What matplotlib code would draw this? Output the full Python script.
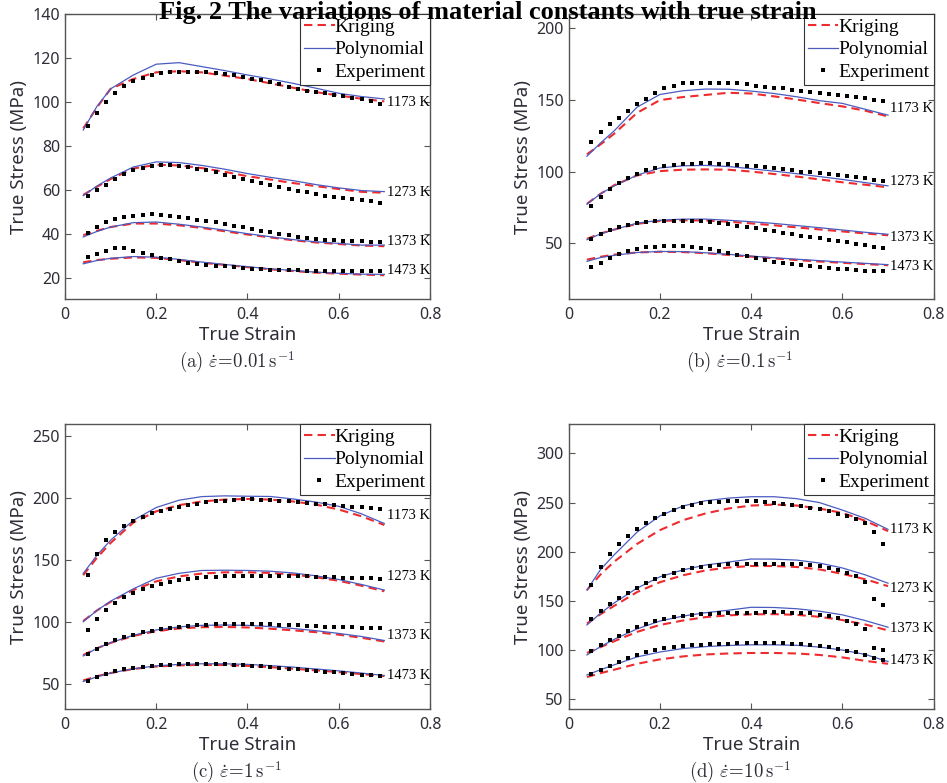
import matplotlib
matplotlib.use("Agg")
import matplotlib.pyplot as plt
from matplotlib.ticker import FormatStrFormatter

plt.rcParams["mathtext.fontset"] = "cm"

temps = ["1173 K", "1273 K", "1373 K", "1473 K"]

# strain points of the model curves and of the experiment markers
model_strain = [0.04, 0.07, 0.1, 0.15, 0.2, 0.25, 0.3, 0.35, 0.4, 0.45, 0.5, 0.55, 0.6, 0.65, 0.7]
exp_strain = [0.05, 0.07, 0.09, 0.11, 0.13, 0.15, 0.17, 0.19, 0.21, 0.23, 0.25,
              0.27, 0.29, 0.31, 0.33, 0.35, 0.37, 0.39, 0.41, 0.43, 0.45, 0.47,
              0.49, 0.51, 0.53, 0.55, 0.57, 0.59, 0.61, 0.63, 0.65, 0.67, 0.69]

# ---- (a) 0.01 s^-1
krig_a = [
    [88, 97.5, 106, 110.5, 113.5, 114, 113.5, 112, 110.5, 108.5, 106.5, 104.5, 103, 101.5, 100.3],
    [57.8, 61.5, 65, 69.8, 71.5, 71.2, 70, 68.3, 66.3, 64.8, 63.2, 61.8, 60.5, 59.2, 58.8],
    [39.5, 41.5, 43.2, 44.8, 44.8, 44, 42.8, 41.3, 39.8, 38.5, 37.2, 36.2, 35.5, 34.8, 34.5],
    [27.2, 28.2, 28.8, 29.4, 29.2, 28.2, 27, 26, 25, 24, 23.2, 22.5, 22, 21.6, 21.3],
]
poly_a = [
    [87.3, 98, 106, 112.3, 117.2, 117.9, 116.1, 114.3, 112.3, 110.5, 108.5, 106.3, 104, 102.5, 101.4],
    [57.5, 61.8, 65.5, 70.5, 72.8, 72.5, 71.2, 69.5, 67.5, 65.8, 64.3, 62.5, 61, 59.8, 59.3],
    [38.7, 41.2, 43.2, 45.2, 45.5, 44.5, 43.2, 41.8, 40.2, 38.8, 37.5, 36.5, 35.8, 35, 35],
    [26.5, 28, 29, 29.8, 29.5, 28.5, 27.3, 26.2, 25.2, 24.2, 23.5, 22.7, 22.2, 21.8, 21.7],
]
exp_a = [
    [89, 95, 100, 104, 107.5, 109.5, 111, 112.5, 113, 113.5, 113.5, 113.7, 113.7, 113.5, 113, 112.7, 112.3,
     111.5, 110.5, 109.8, 109, 108, 106.8, 105.8, 105.2, 104.5, 104, 103.3, 102.8, 102, 101.3, 100.5, 99.3],
    [57.5, 60, 62.5, 65, 67.5, 69, 70, 71, 71.3, 71.3, 71, 70.5, 69.8, 69, 68, 67, 66,
     65, 64, 63, 62.2, 61.3, 60.5, 59.7, 59, 58.3, 57.5, 57, 56.5, 55.8, 55.3, 55, 54.3],
    [40.5, 43, 45.5, 46.8, 47.8, 48.3, 48.6, 49, 48.8, 48.3, 47.8, 47.2, 46.6, 46, 45.3, 44.5, 43.7,
     43, 42.2, 41.5, 40.8, 40.2, 39.5, 38.9, 38.4, 38, 37.5, 37.2, 37, 36.8, 36.7, 36.6, 36.4],
    [29.5, 31, 32.3, 33.5, 33.5, 32.5, 31.5, 30.3, 29.3, 28.5, 27.7, 27, 26.5, 26, 25.7, 25.3, 25,
     24.7, 24.3, 24, 23.8, 23.6, 23.5, 23.5, 23.3, 23.2, 23.2, 23.2, 23.2, 23.2, 23.3, 23.3, 23.3],
]
label_y_a = [100, 58.7, 36.5, 23.6]

# ---- (b) 0.1 s^-1
krig_b = [
    [112, 119, 126.5, 141, 149.9, 152, 153.5, 155, 154.5, 152.5, 150.3, 147.8, 145.5, 142.5, 138.5],
    [77.5, 84.5, 90.5, 97.3, 100.3, 101.3, 101.5, 101.3, 100, 98.3, 96.5, 94.5, 92.5, 90.8, 89],
    [53, 56.8, 59.5, 63.5, 65.5, 66, 65.8, 65, 63.8, 62.5, 61, 59.6, 58.2, 56.8, 55.5],
    [38.5, 40.5, 42, 43.5, 44, 43.8, 43, 41.8, 40.6, 39.4, 38.2, 37.2, 36.3, 35.4, 34.6],
]
poly_b = [
    [110.7, 120, 128.5, 145, 153.8, 156.4, 157.6, 157.5, 156.2, 154.5, 152.2, 149.5, 147.6, 143.5, 139.4],
    [77.2, 84.5, 90, 97.5, 102.5, 104, 104.3, 103.5, 102, 100.3, 98.5, 96.5, 94.5, 92.3, 90],
    [52.4, 56.5, 59.5, 64, 66, 66.8, 66.8, 66, 65, 63.8, 62.3, 60.8, 59.2, 57.6, 56.2],
    [37.3, 40, 41.5, 43.5, 44.2, 44.1, 43.3, 42.2, 41, 39.8, 38.8, 37.8, 36.8, 35.9, 35],
]
exp_b = [
    [120.7, 127.5, 133, 137.5, 142.5, 147, 151, 155, 158, 160, 161.5, 162, 162, 162, 162, 161.8, 161.5,
     160.8, 160, 159.3, 158.5, 158, 157, 156.3, 155.8, 155, 154.3, 153.5, 152.8, 152, 151.2, 150.2, 149.3],
    [76, 82, 87.5, 92, 95.5, 98.5, 100.8, 102.5, 103.8, 104.6, 105.2, 105.6, 105.8, 105.8, 105.6, 105.2, 104.7,
     104.2, 103.6, 103, 102.3, 101.6, 100.8, 100, 99.4, 98.8, 98.1, 97.5, 96.8, 96, 95.2, 94.4, 93.5],
    [53, 56.5, 59, 61, 62.8, 64, 64.8, 65.3, 65.6, 65.7, 65.7, 65.5, 65.2, 64.7, 64, 63.2, 62.3,
     61.3, 60.3, 59.3, 58.3, 57.3, 56.3, 55.3, 54.4, 53.5, 52.5, 51.5, 50.5, 49.5, 48.5, 47.5, 46.5],
    [33.3, 36.3, 39.5, 42.5, 44.6, 46, 47, 47.6, 48, 48.2, 48, 47.6, 46.8, 45.8, 44.6, 43.3, 42,
     40.7, 39.4, 38.3, 37.2, 36.2, 35.4, 34.6, 33.9, 33.3, 32.8, 32.3, 31.8, 31.3, 30.9, 30.6, 30.5],
]
label_y_b = [144, 92.8, 53.8, 34]

# ---- (c) 1 s^-1
krig_c = [
    [138, 152, 164, 180.5, 189.5, 194.5, 197.5, 199, 199.5, 199, 197.5, 195, 191, 185.5, 178.5],
    [101, 109.5, 116.5, 126, 133, 137, 139.3, 140.3, 140.3, 139.8, 138.5, 136.3, 133.5, 129.5, 125],
    [73.5, 79, 83.3, 89, 92.8, 95, 96, 96.2, 95.8, 94.8, 93.5, 92, 90, 87.5, 84.5],
    [53, 56.5, 59, 62.3, 64.3, 65.2, 65.6, 65.5, 64.8, 63.8, 62.5, 61.2, 59.8, 58.2, 56.5],
]
poly_c = [
    [139.4, 154, 166.2, 182.3, 192.6, 198.5, 201.4, 202, 201.7, 201.5, 199.5, 197, 193.6, 187.5, 179.7],
    [100.5, 109.5, 117, 127, 135.5, 139.5, 141.8, 142, 141.8, 141.2, 139.8, 137.5, 134.5, 130.5, 126],
    [72.8, 79, 83.5, 89.5, 93.8, 96.3, 97.5, 97.8, 97.5, 96.5, 95, 93.2, 91, 88.5, 85.3],
    [52.2, 56, 59, 62.5, 64.8, 66, 66.5, 66.5, 66, 65, 63.8, 62.3, 60.8, 59, 57],
]
exp_c = [
    [138, 155, 166, 173, 178, 182, 185, 188, 190, 191.8, 193.2, 194.5, 195.7, 196.7, 197.5, 198.2, 198.8,
     199.2, 199.2, 199, 198.6, 198.1, 197.6, 197, 196.4, 195.8, 195.2, 194.6, 194, 193.4, 192.8, 192.2, 191.6],
    [94, 103, 110, 115.5, 120, 123.5, 126.5, 129, 131, 132.5, 133.8, 134.8, 135.6, 136.2, 136.7, 137, 137.2,
     137.4, 137.5, 137.6, 137.6, 137.5, 137.4, 137.2, 137, 136.8, 136.5, 136.3, 136, 135.8, 135.6, 135.4, 135.2],
    [74, 78.5, 82.5, 85.5, 88, 90, 91.8, 93.3, 94.5, 95.5, 96.3, 97, 97.5, 97.9, 98.2, 98.4, 98.5,
     98.6, 98.6, 98.5, 98.3, 98, 97.7, 97.4, 97.1, 96.8, 96.5, 96.3, 96.1, 95.9, 95.7, 95.5, 95.3],
    [52.5, 56, 58.5, 60.5, 62, 63.3, 64.3, 65, 65.5, 65.9, 66.2, 66.4, 66.5, 66.5, 66.4, 66.2, 65.9,
     65.5, 65, 64.5, 63.9, 63.3, 62.6, 62, 61.3, 60.7, 60.1, 59.5, 58.9, 58.3, 57.7, 57.2, 56.7],
]
label_y_c = [186.4, 136.7, 89.7, 56.7]

# ---- (d) 10 s^-1
krig_d = [
    [161, 177, 190, 208, 222, 232, 239, 244, 247, 248, 247, 244, 239.5, 231.5, 221],
    [127, 136.5, 145, 159, 169, 176, 181, 184, 185.5, 185.5, 184.5, 182, 177.5, 172, 165],
    [97, 103, 109, 118.5, 125.5, 130, 133.5, 135.3, 136.3, 136.5, 135.8, 133.8, 130.5, 126, 120],
    [72.5, 76.5, 80, 86, 90.5, 93.5, 95.5, 96.5, 97, 97, 96.5, 95, 92.5, 89, 86],
]
poly_d = [
    [161, 182, 197, 220, 236.5, 246.5, 251.9, 254.6, 256, 256, 254, 250, 242.4, 234, 222.8],
    [125.5, 137.5, 148, 163, 174.5, 181.5, 186.5, 189.5, 192.6, 192.5, 191.5, 188.5, 183.5, 176.5, 168],
    [95, 103.5, 111, 121.5, 129.5, 134.5, 138, 140.5, 143.5, 143.3, 142, 139.5, 135.8, 130, 123.2],
    [74.7, 80, 85, 93, 98, 101.5, 103.5, 104.6, 105.3, 105.3, 104.8, 103, 100, 95.5, 88.3],
]
exp_d = [
    [166, 185, 198, 208, 216, 223, 229, 234, 238.5, 242.5, 245.5, 247.8, 249.3, 250.3, 251, 251.3, 251.5,
     251.5, 251.2, 250.6, 249.8, 248.8, 247.7, 246.3, 244.8, 243, 241, 238.7, 236, 233, 229, 220, 208],
    [132, 140, 147, 153, 158.5, 163.5, 168, 172, 175.5, 178.5, 181, 183, 184.5, 185.6, 186.5, 187.2, 187.6,
     187.8, 188, 188, 188, 188, 187.8, 187.3, 186.5, 185.3, 183.5, 181.3, 178.5, 175, 169, 152, 146],
    [99, 105, 110, 114.5, 119, 123, 126.5, 129.3, 131.5, 133.3, 134.6, 135.6, 136.3, 136.8, 137.2, 137.5, 137.8,
     138, 138.1, 138.2, 138.2, 138.2, 138.1, 137.8, 137.2, 136, 134.5, 132.5, 130, 127, 121, 102, 100],
    [76, 80, 84, 88, 91.5, 95, 98, 100.3, 102, 103.3, 104.3, 105, 105.6, 106, 106.3, 106.6, 106.8,
     107, 107, 107, 107, 106.8, 106.5, 106, 105.3, 104.3, 103, 101.5, 99.5, 97.5, 95, 91.5, 90],
]
label_y_d = [222.8, 162.8, 122, 89.3]

panels = [
    (krig_a, poly_a, exp_a, label_y_a, (10.5, 140), [20, 40, 60, 80, 100, 120, 140], r"$\mathrm{(a)}\ \dot{\varepsilon}\!=\!0.01\,\mathrm{s}^{-1}$"),
    (krig_b, poly_b, exp_b, label_y_b, (11, 210), [50, 100, 150, 200], r"$\mathrm{(b)}\ \dot{\varepsilon}\!=\!0.1\,\mathrm{s}^{-1}$"),
    (krig_c, poly_c, exp_c, label_y_c, (30, 260), [50, 100, 150, 200, 250], r"$\mathrm{(c)}\ \dot{\varepsilon}\!=\!1\,\mathrm{s}^{-1}$"),
    (krig_d, poly_d, exp_d, label_y_d, (40, 330), [50, 100, 150, 200, 250, 300], r"$\mathrm{(d)}\ \dot{\varepsilon}\!=\!10\,\mathrm{s}^{-1}$"),
]

# axes rectangles in figure fractions (left, bottom, width, height)
rects = [
    (0.0686, 0.6181, 0.3854, 0.364),
    (0.6005, 0.6181, 0.3854, 0.364),
    (0.0686, 0.0945, 0.3854, 0.364),
    (0.6005, 0.0945, 0.3854, 0.364),
]

RED = "#ee2b2e"
BLUE = "#4a5cc0"
TXT = "#2e2e38"
SANS = "Noto Sans"
SERIF = "Liberation Serif"

fig = plt.figure(figsize=(9.47, 7.83), dpi=100)

for (krig, poly, exp, lab_y, ylim, yticks, caption), rect in zip(panels, rects):
    ax = fig.add_axes(rect)
    for i in range(4):
        ax.plot(model_strain, krig[i], color=RED, lw=1.5, ls=(0, (4, 2.5)),
                label="Kriging" if i == 0 else None, zorder=2)
        ax.plot(model_strain, poly[i], color=BLUE, lw=0.9,
                label="Polynomial" if i == 0 else None, zorder=3)
        ax.plot(exp_strain, exp[i], ls="none", marker="s", ms=3.3, mew=0,
                color="black", label="Experiment" if i == 0 else None, zorder=4)
        ax.text(0.705, lab_y[i], temps[i], fontsize=10.5, family=SERIF,
                ha="left", va="center", clip_on=False, zorder=5)
    ax.set_xlim(0, 0.8)
    ax.set_ylim(*ylim)
    ax.set_xticks([0, 0.2, 0.4, 0.6, 0.8])
    ax.set_yticks(yticks)
    ax.xaxis.set_major_formatter(FormatStrFormatter("%g"))
    ax.tick_params(direction="in", top=True, right=True, length=4, width=0.8,
                   labelsize=11.5, labelcolor=TXT, color="#555555")
    ax.tick_params(axis="x", pad=6)
    ax.tick_params(axis="y", pad=3.5)
    for lab in ax.get_xticklabels() + ax.get_yticklabels():
        lab.set_family(SANS)
    for sp in ax.spines.values():
        sp.set_color("#555555")
        sp.set_linewidth(1.0)
    ax.set_xlabel("True Strain", fontsize=13.5, family=SANS, color=TXT, labelpad=2)
    ax.set_ylabel("True Stress (MPa)", fontsize=13.5, family=SANS, color=TXT, labelpad=3)
    leg = ax.legend(loc="upper right", borderaxespad=0, fancybox=False,
                    prop={"family": SERIF, "size": 14}, handlelength=1.55,
                    handletextpad=0.0, labelspacing=0.25, borderpad=0.22,
                    edgecolor="#333333", framealpha=1)
    leg.get_frame().set_linewidth(0.8)
    ax.text(0.47, -0.222, caption, transform=ax.transAxes, fontsize=13.5,
            ha="center", va="center", color=TXT)

fig.text(0.515, 1 - 13 / 783, "Fig. 2 The variations of material constants with true strain",
         family=SERIF, weight="bold", fontsize=19, ha="center", va="center", zorder=10)

fig.savefig("out.png", dpi=100)
